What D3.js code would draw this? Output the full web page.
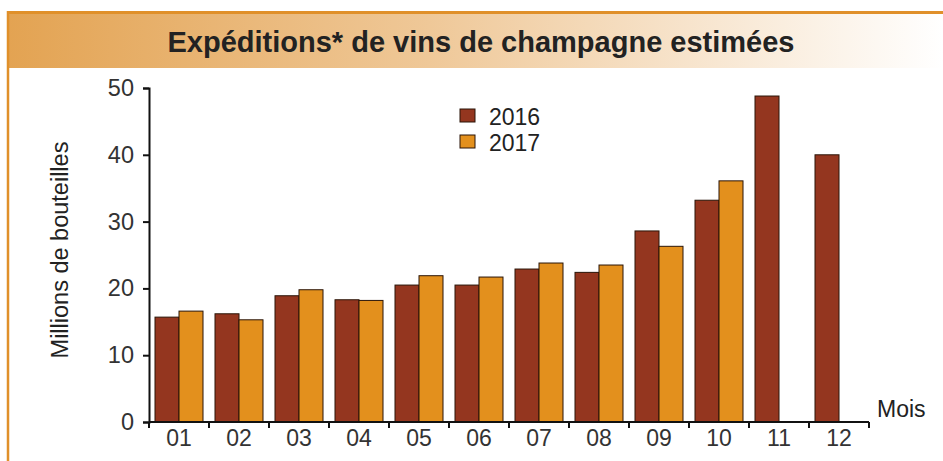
<!DOCTYPE html>
<html>
<head>
<meta charset="utf-8">
<script src="https://cdn.jsdelivr.net/npm/d3@7"></script>
<style>
  body { margin: 0; background: #fff; }
  text { font-family: "Liberation Sans", Arial, sans-serif; }
</style>
</head>
<body>
<div id="chart"></div>
<script>
// données
const mois = ['01', '02', '03', '04', '05', '06', '07', '08', '09', '10', '11', '12']
const valeurs2016 = [15.7, 16.2, 18.9, 18.3, 20.5, 20.5, 22.9, 22.4, 28.6, 33.2, 48.8, 40.0]
const valeurs2017 = [16.6, 15.3, 19.8, 18.2, 21.9, 21.7, 23.8, 23.5, 26.3, 36.1, null, null]
const annees = ['2016', '2017']
const couleurs = ['#94361f', '#e3901d']
const yTicks = [0, 10, 20, 30, 40, 50]

const width = 943, height = 461
const police = '"Liberation Sans", Arial, sans-serif'

const svg = d3.select('#chart')
    .append('svg')
    .attr('width', width)
    .attr('height', height)

// bandeau du titre avec dégradé
const grad = svg.append('defs').append('linearGradient')
    .attr('id', 'bandeau')
    .attr('x1', '0%').attr('x2', '100%')
grad.append('stop').attr('offset', '0%').attr('stop-color', '#e3a352')
grad.append('stop').attr('offset', '45%').attr('stop-color', '#efc898')
grad.append('stop').attr('offset', '100%').attr('stop-color', '#ffffff')

svg.append('rect')
    .attr('x', 8).attr('y', 13)
    .attr('width', width - 8).attr('height', 55)
    .attr('fill', 'url(#bandeau)')

svg.append('line')
    .attr('x1', 7).attr('x2', width)
    .attr('y1', 12.5).attr('y2', 12.5)
    .attr('stroke', '#e0902a').attr('stroke-width', 3)

svg.append('line')
    .attr('x1', 8).attr('x2', 8)
    .attr('y1', 11).attr('y2', height)
    .attr('stroke', '#e0902a').attr('stroke-width', 2.5)

svg.append('text')
    .attr('x', 481)
    .attr('y', 52)
    .attr('text-anchor', 'middle')
    .attr('font-size', 29)
    .attr('font-weight', 'bold')
    .attr('fill', '#222')
    .text('Expéditions* de vins de champagne estimées')

// échelles
const x0 = d3.scaleBand()
    .domain(mois)
    .range([149, 869])
    .paddingInner(0)

const x1 = d3.scaleBand()
    .domain(annees)
    .range([6, 54])

const y = d3.scaleLinear()
    .domain([0, 50])
    .range([422, 88])

// barres
const donnees = mois.map((m, i) => ({ mois: m, valeurs: [valeurs2016[i], valeurs2017[i]] }))

const groupes = svg.append('g')
    .selectAll('g')
    .data(donnees)
    .join('g')
    .attr('transform', d => 'translate(' + x0(d.mois) + ',0)')

groupes.selectAll('rect')
    .data(d => d.valeurs.map((v, j) => ({ annee: annees[j], v: v, c: couleurs[j] })).filter(e => e.v != null))
    .join('rect')
    .attr('x', d => x1(d.annee))
    .attr('y', d => y(d.v))
    .attr('width', x1.bandwidth())
    .attr('height', d => y(0) - y(d.v))
    .attr('fill', d => d.c)
    .attr('stroke', '#2a1508')
    .attr('stroke-width', 1)

// axe Y
const axeY = svg.append('g')
    .attr('transform', 'translate(149,0)')
    .call(d3.axisLeft(y).tickValues(yTicks).tickSize(6).tickPadding(9))
axeY.select('.domain').attr('stroke', '#111').attr('stroke-width', 2)
axeY.selectAll('.tick line').attr('stroke', '#111').attr('stroke-width', 2)
axeY.selectAll('.tick text')
    .attr('font-size', 23.5)
    .attr('fill', '#333')
    .attr('font-family', police)

// axe X
const axeX = svg.append('g')
    .attr('transform', 'translate(0,422)')
    .call(d3.axisBottom(x0).tickSize(0).tickPadding(8))
axeX.select('.domain').attr('d', 'M149,0H869').attr('stroke', '#111').attr('stroke-width', 2)
axeX.selectAll('.tick text')
    .attr('font-size', 23)
    .attr('fill', '#333')
    .attr('font-family', police)

// petites graduations entre les mois
axeX.selectAll('.sep')
    .data(mois.concat(['fin']))
    .join('line')
    .attr('class', 'sep')
    .attr('x1', (d, i) => i < mois.length ? x0(d) : x0.range()[1])
    .attr('x2', (d, i) => i < mois.length ? x0(d) : x0.range()[1])
    .attr('y1', 0).attr('y2', 6)
    .attr('stroke', '#111').attr('stroke-width', 2)

// titres des axes
svg.append('text')
    .attr('transform', 'translate(68,250) rotate(-90)')
    .attr('text-anchor', 'middle')
    .attr('font-size', 23.5)
    .attr('fill', '#222')
    .text('Millions de bouteilles')

svg.append('text')
    .attr('x', 877)
    .attr('y', 417)
    .attr('font-size', 23)
    .attr('fill', '#222')
    .text('Mois')

// légende
const legende = svg.append('g')
    .selectAll('g')
    .data(annees)
    .join('g')
    .attr('transform', (d, i) => 'translate(460,' + (109 + i * 26) + ')')

legende.append('rect')
    .attr('width', 15).attr('height', 13)
    .attr('fill', (d, i) => couleurs[i])
    .attr('stroke', '#2a1508').attr('stroke-width', 1)

legende.append('text')
    .attr('x', 29)
    .attr('y', 9)
    .attr('dy', '0.3em')
    .attr('font-size', 23)
    .attr('fill', '#222')
    .text(d => d)
</script>
</body>
</html>
